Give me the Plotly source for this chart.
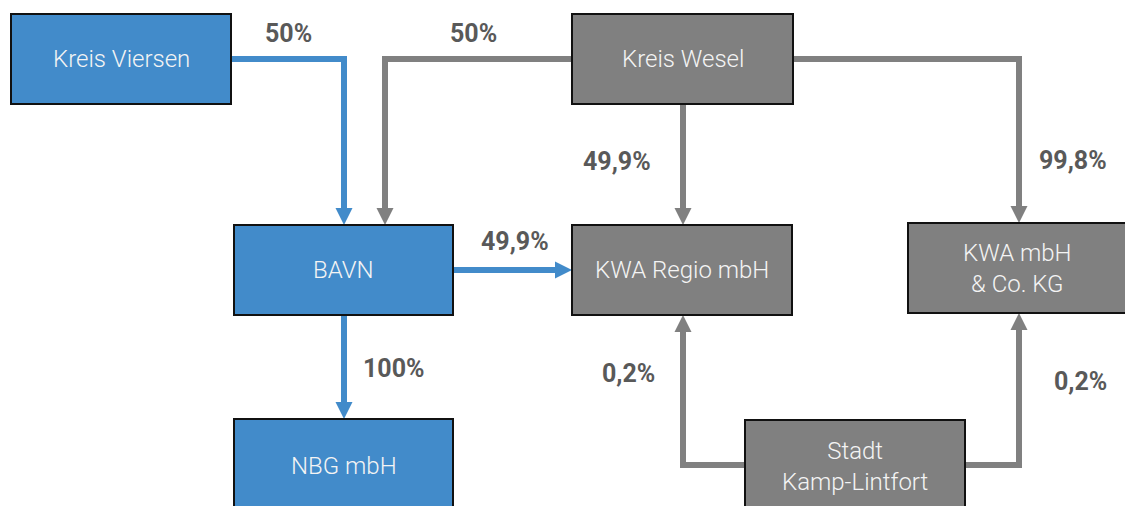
import plotly.graph_objects as go

# ---------------- data ----------------
node_names = ["Kreis Viersen", "Kreis Wesel", "BAVN", "KWA Regio mbH",
              "KWA mbH<br>& Co. KG", "NBG mbH", "Stadt<br>Kamp-Lintfort"]
node_group = ["blue", "gray", "blue", "gray", "gray", "blue", "gray"]

edge_source = [0, 1, 1, 1, 2, 2, 6, 6]
edge_target = [2, 2, 3, 4, 3, 5, 3, 4]
edge_labels = ["50%", "50%", "49,9%", "99,8%", "49,9%", "100%", "0,2%", "0,2%"]
edge_group = ["blue", "gray", "gray", "gray", "blue", "blue", "gray", "gray"]

# ---------------- layout (positions, sizes, styles) ----------------
W, H = 1125, 506
node_box = [  # x0, y0, x1, y1 in pixel space of the window
    (11, 14, 231, 104),
    (572, 14, 793, 104),
    (234, 225, 453, 315),
    (572, 225, 792, 315),
    (908, 223, 1127, 313),
    (234, 419, 453, 512),
    (745, 420, 965, 512),
]
edge_route = [
    [(231, 59), (344, 59), (344, 225)],
    [(572, 59), (385, 59), (385, 225)],
    [(683, 104), (683, 225)],
    [(793, 59), (1019, 59), (1019, 223)],
    [(453, 270), (572, 270)],
    [(344, 315), (344, 419)],
    [(745, 465), (683, 465), (683, 315)],
    [(965, 465), (1019, 465), (1019, 313)],
]
label_pos = [(288, 33), (473, 33), (617, 161), (1073, 160),
             (515, 241), (394, 368), (628, 373), (1080, 381)]

colors = {"blue": "#428BCA", "gray": "#808080"}
label_color = "#595959"
LW = 6
HEAD_LEN, HEAD_HALF = 17, 8.5

fig = go.Figure()
shapes = []
annotations = []

# edges
for i in range(len(edge_source)):
    pts = list(edge_route[i])
    col = colors[edge_group[i]]
    (xa, ya), (xb, yb) = pts[-2], pts[-1]
    dx, dy = xb - xa, yb - ya
    L = (dx * dx + dy * dy) ** 0.5
    ux, uy = dx / L, dy / L
    bx, by = xb - ux * HEAD_LEN, yb - uy * HEAD_LEN
    line_pts = pts[:-1] + [(bx + ux * 2, by + uy * 2)]
    fig.add_trace(go.Scatter(
        x=[p[0] for p in line_pts], y=[p[1] for p in line_pts],
        mode="lines", line=dict(color=col, width=LW),
        hoverinfo="skip", showlegend=False))
    px, py = -uy, ux
    path = (f"M {xb},{yb} L {bx + px * HEAD_HALF},{by + py * HEAD_HALF} "
            f"L {bx - px * HEAD_HALF},{by - py * HEAD_HALF} Z")
    shapes.append(dict(type="path", path=path, xref="x", yref="y",
                       fillcolor=col, line=dict(width=0), layer="above"))
    annotations.append(dict(
        x=label_pos[i][0], y=label_pos[i][1], xref="x", yref="y",
        text=f"<b>{edge_labels[i]}</b>", showarrow=False,
        font=dict(family="Roboto", size=25, color=label_color),
        xanchor="center", yanchor="middle"))

# nodes
for i, name in enumerate(node_names):
    x0, y0, x1, y1 = node_box[i]
    shapes.append(dict(type="rect", xref="x", yref="y", x0=x0, y0=y0, x1=x1, y1=y1,
                       fillcolor=colors[node_group[i]],
                       line=dict(color="#111111", width=2), layer="above"))
    annotations.append(dict(
        x=(x0 + x1) / 2, y=(y0 + y1) / 2, xref="x", yref="y",
        text=name, showarrow=False,
        font=dict(family="Roboto", size=24, color="#F4F4F4", weight=300),
        xanchor="center", yanchor="middle"))

fig.update_layout(
    width=W, height=H,
    margin=dict(l=0, r=0, t=0, b=0, pad=0),
    paper_bgcolor="white", plot_bgcolor="white",
    xaxis=dict(range=[0, W], visible=False, fixedrange=True),
    yaxis=dict(range=[H, 0], visible=False, fixedrange=True),
    shapes=shapes, annotations=annotations,
    hovermode=False,
)
fig.write_html(
    "out.html",
    config={"displayModeBar": False, "staticPlot": True},
    post_script="document.body.style.margin='0';document.body.style.overflow='hidden';",
)
